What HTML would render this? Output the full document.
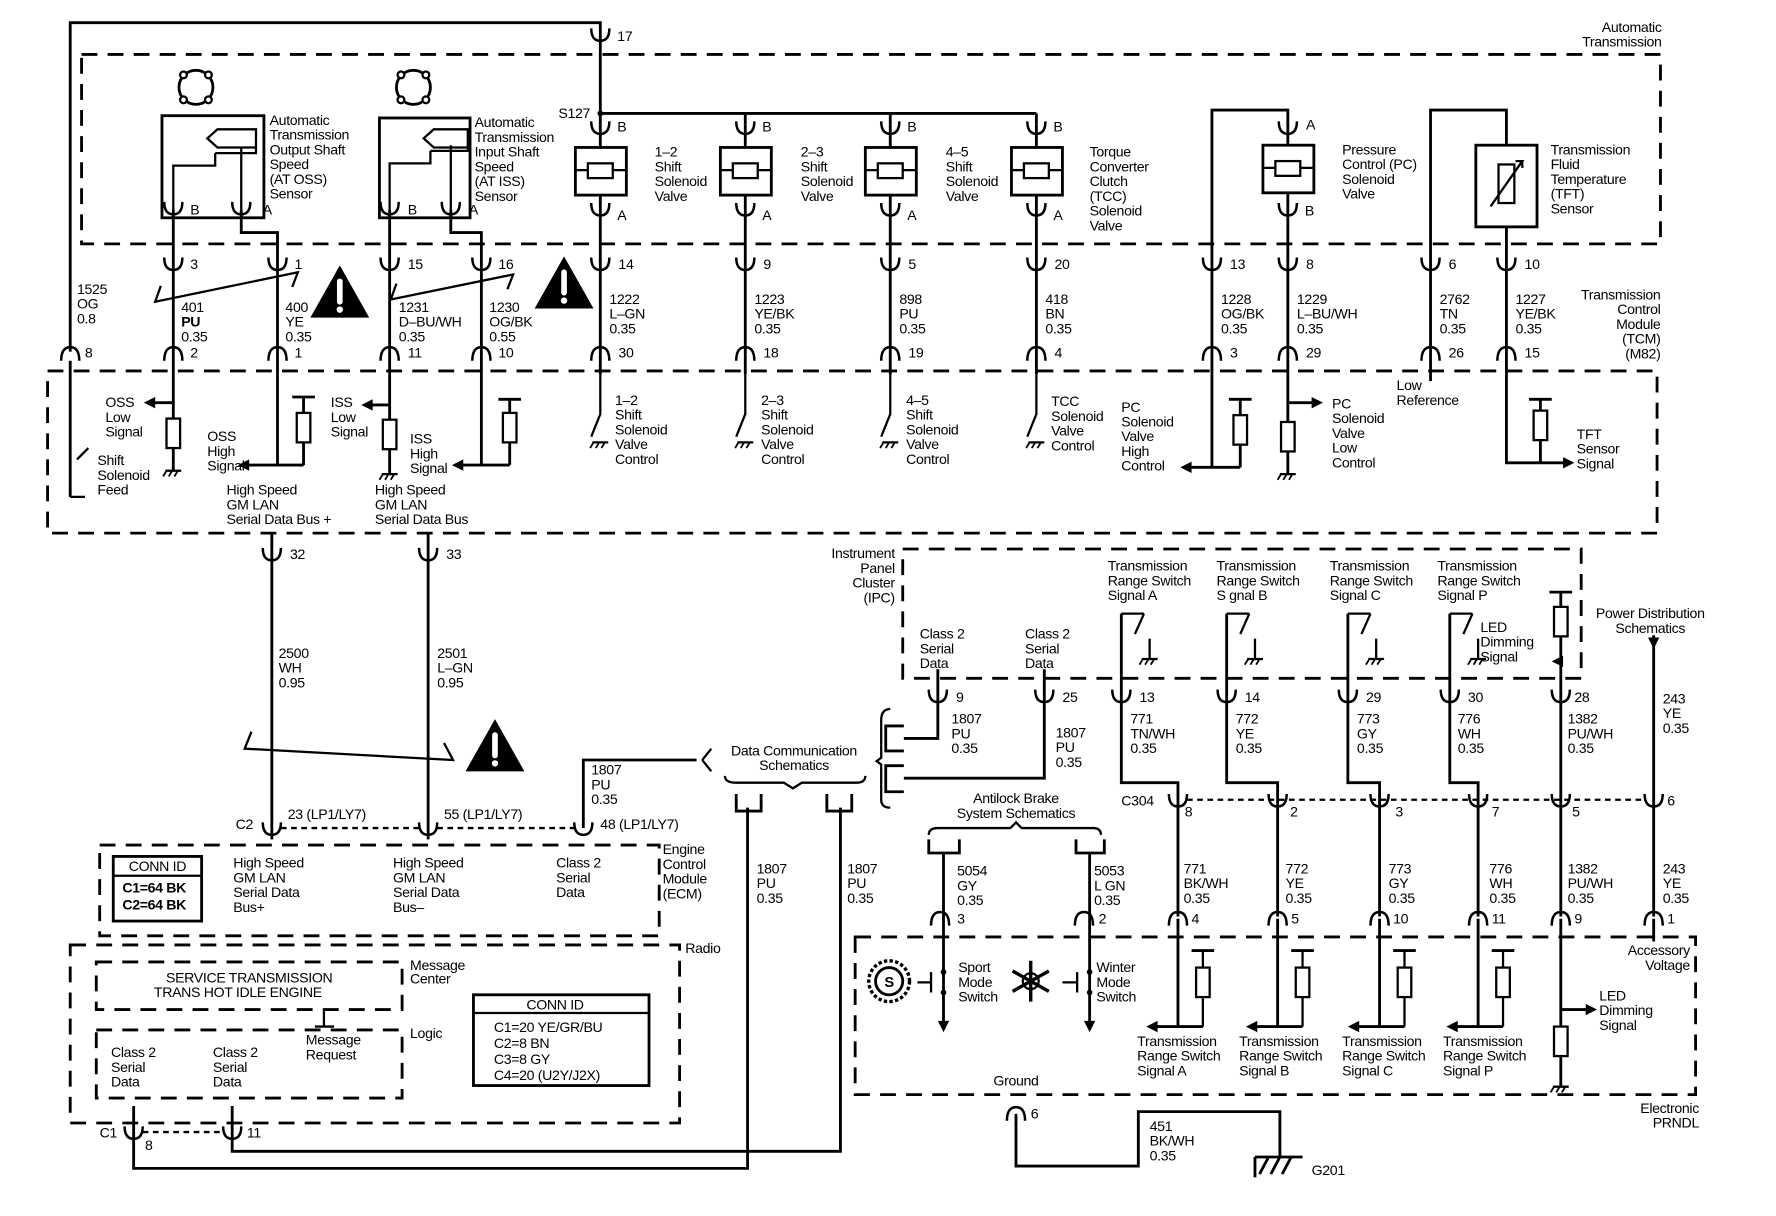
<!DOCTYPE html>
<html><head><meta charset="utf-8"><style>
html,body{margin:0;padding:0;background:#fff}
svg{display:block}
text{font-family:"Liberation Sans",Arial,sans-serif;font-size:12.5px;fill:#000;letter-spacing:-0.3px}
.b{font-weight:bold}
</style></head><body>
<svg width="1776" height="1216" viewBox="0 0 1568 1072" preserveAspectRatio="none" xmlns="http://www.w3.org/2000/svg">
<defs>
<path id="cu" d="M-8,-5 Q-8,6 0,6 Q8,6 8,-5" fill="none" stroke="#000" stroke-width="2.2"/>
<path id="ca" d="M-8,6 Q-8,-6 0,-6 Q8,-6 8,6" fill="none" stroke="#000" stroke-width="2.2"/>
<g id="gnd"><line x1="-7" y1="0" x2="7" y2="0" stroke="#000" stroke-width="2"/><path d="M-6,0 l-3,5 M-1,0 l-3,5 M4,0 l-3,5" stroke="#000" stroke-width="1.6"/></g>
<g id="res"><rect x="-6" y="0" width="12" height="26" fill="#fff" stroke="#000" stroke-width="2"/></g>
<path id="arl" d="M0,0 l10,-5 v10 z" fill="#000"/>
<path id="arr" d="M0,0 l-10,-5 v10 z" fill="#000"/>
<path id="ard" d="M0,0 l-5,-10 h10 z" fill="#000"/>
<g id="warn"><path d="M0,-28 L26,18 L-26,18 Z" fill="#000"/><path d="M0,-14 v18" stroke="#fff" stroke-width="5" stroke-linecap="round"/><circle cx="0" cy="11" r="2.8" fill="#fff"/></g>
<g id="sol"><rect x="-22" y="-20" width="45" height="42" fill="#fff" stroke="#000" stroke-width="2.5"/><rect x="-11" y="-6" width="22" height="13" fill="#fff" stroke="#000" stroke-width="2"/><line x1="-22" y1="0" x2="-11" y2="0" stroke="#000" stroke-width="2"/><line x1="11" y1="0" x2="23" y2="0" stroke="#000" stroke-width="2"/></g>
<g id="gear"><circle r="15" fill="none" stroke="#000" stroke-width="2.5"/><circle cx="-11" cy="-11" r="3" fill="#fff" stroke="#000" stroke-width="2"/><circle cx="11" cy="-11" r="3" fill="#fff" stroke="#000" stroke-width="2"/><circle cx="-11" cy="11" r="3" fill="#fff" stroke="#000" stroke-width="2"/><circle cx="11" cy="11" r="3" fill="#fff" stroke="#000" stroke-width="2"/></g>
<g id="sw"><line x1="0" y1="0" x2="20" y2="0" stroke="#000" stroke-width="2"/><line x1="20" y1="0" x2="12" y2="18" stroke="#000" stroke-width="2"/><line x1="25" y1="22" x2="25" y2="40" stroke="#000" stroke-width="2"/><use href="#gnd" x="25" y="40"/></g>
<g id="pull"><line x1="0" y1="0" x2="22" y2="0" stroke="#000" stroke-width="2.5"/><line x1="22" y1="0" x2="22" y2="-67" stroke="#000" stroke-width="2"/><use href="#res" x="22" y="-52"/><line x1="12" y1="-67" x2="32" y2="-67" stroke="#000" stroke-width="2.5"/></g>
</defs>

<g fill="none" stroke="#000" stroke-width="2.5" stroke-dasharray="14,9">
<rect x="72" y="48" width="1394" height="167"/>
<rect x="42" y="327" width="1421" height="143"/>
<rect x="797" y="484" width="599" height="114"/>
<rect x="88" y="745" width="494" height="80"/>
<rect x="62" y="833" width="538" height="157"/>
<rect x="85" y="848" width="270" height="42"/>
<rect x="85" y="908" width="270" height="60"/>
<rect x="755" y="826" width="742" height="139"/>
</g>

<g fill="none" stroke="#000" stroke-width="2.5">
<path d="M62,310 V20 H530 V100 H915 M658,100 V110 M786,100 V110 M915,100 V110 M530,100 V110"/>
<path d="M62,318 V438"/>
</g>
<text x="545" y="36">17</text><use href="#cu" x="530" y="30"/>
<text x="493" y="104">S127</text><circle cx="530" cy="100" r="2.5"/>
<text x="1467" y="28" text-anchor="end">Automatic</text><text x="1467" y="41" text-anchor="end">Transmission</text>

<use href="#gear" x="173" y="77"/><use href="#gear" x="365" y="77"/>
<g fill="none" stroke="#000" stroke-width="2.5">
<rect x="143" y="102" width="90" height="90"/><rect x="335" y="104" width="80" height="88"/>
<path d="M153,192 V175 M153,175 V170 V146 H190 V135 M213,192 V130 M190,135 H226 V114 H192 L183,122 L192,130 H226" stroke-width="2"/>
<path d="M344,192 V170 V144 H380 V133 M398,192 V128 M380,133 H413 V114 H383 L374,122 L383,130 H413" stroke-width="2"/>
<path d="M153,185 V330 M213,185 V205 H245 V330 M344,185 V330 M398,185 V205 H425 V330"/>
</g>
<use href="#cu" x="153" y="183"/><use href="#cu" x="213" y="183"/><use href="#cu" x="344" y="183"/><use href="#cu" x="398" y="183"/>
<text x="168" y="189">B</text><text x="232" y="189">A</text><text x="360" y="189">B</text><text x="414" y="189">A</text>
<g><text x="238" y="110">Automatic</text><text x="238" y="123">Transmission</text><text x="238" y="136">Output Shaft</text><text x="238" y="149">Speed</text><text x="238" y="162">(AT OSS)</text><text x="238" y="175">Sensor</text></g>
<g><text x="419" y="112">Automatic</text><text x="419" y="125">Transmission</text><text x="419" y="138">Input Shaft</text><text x="419" y="151">Speed</text><text x="419" y="164">(AT ISS)</text><text x="419" y="177">Sensor</text></g>

<g fill="none" stroke="#000" stroke-width="2.5">
<path d="M530,110 V330 M658,110 V330 M786,110 V330 M915,110 V330"/>
<path d="M1070,330 V97 H1137 V112 M1137,112 V330 M1263,330 V97 H1330 V128 M1330,200 V330"/>
</g>
<use href="#sol" x="530" y="150"/><use href="#sol" x="658" y="150"/><use href="#sol" x="786" y="150"/><use href="#sol" x="915" y="150"/><use href="#sol" x="1137" y="148"/>
<rect x="1303" y="128" width="54" height="72" fill="#fff" stroke="#000" stroke-width="2.5"/>
<rect x="1323" y="145" width="14" height="34" fill="#fff" stroke="#000" stroke-width="2"/>
<path d="M1316,182 L1344,142 l-6,0 M1344,142 l0,6" stroke="#000" stroke-width="2" fill="none"/>
<g>
<use href="#cu" x="530" y="112"/><use href="#cu" x="658" y="112"/><use href="#cu" x="786" y="112"/><use href="#cu" x="915" y="112"/><use href="#cu" x="1137" y="112"/>
<use href="#cu" x="530" y="184"/><use href="#cu" x="658" y="184"/><use href="#cu" x="786" y="184"/><use href="#cu" x="915" y="184"/><use href="#cu" x="1137" y="184"/>
</g>
<text x="545" y="116">B</text><text x="673" y="116">B</text><text x="801" y="116">B</text><text x="930" y="116">B</text><text x="1153" y="114">A</text>
<text x="545" y="194">A</text><text x="673" y="194">A</text><text x="801" y="194">A</text><text x="930" y="194">A</text><text x="1152" y="190">B</text>
<text x="578" y="138">1–2</text><text x="578" y="151">Shift</text><text x="578" y="164">Solenoid</text><text x="578" y="177">Valve</text>
<text x="707" y="138">2–3</text><text x="707" y="151">Shift</text><text x="707" y="164">Solenoid</text><text x="707" y="177">Valve</text>
<text x="835" y="138">4–5</text><text x="835" y="151">Shift</text><text x="835" y="164">Solenoid</text><text x="835" y="177">Valve</text>
<text x="962" y="138">Torque</text><text x="962" y="151">Converter</text><text x="962" y="164">Clutch</text><text x="962" y="177">(TCC)</text><text x="962" y="190">Solenoid</text><text x="962" y="203">Valve</text>
<text x="1185" y="136">Pressure</text><text x="1185" y="149">Control (PC)</text><text x="1185" y="162">Solenoid</text><text x="1185" y="175">Valve</text>
<text x="1369" y="136">Transmission</text><text x="1369" y="149">Fluid</text><text x="1369" y="162">Temperature</text><text x="1369" y="175">(TFT)</text><text x="1369" y="188">Sensor</text>

<g>
<use href="#cu" x="153" y="232"/><use href="#cu" x="245" y="232"/><use href="#cu" x="344" y="232"/><use href="#cu" x="425" y="232"/><use href="#cu" x="530" y="232"/><use href="#cu" x="658" y="232"/><use href="#cu" x="786" y="232"/><use href="#cu" x="915" y="232"/><use href="#cu" x="1070" y="232"/><use href="#cu" x="1137" y="232"/><use href="#cu" x="1263" y="232"/><use href="#cu" x="1330" y="232"/>
<use href="#ca" x="62" y="312"/><use href="#ca" x="153" y="312"/><use href="#ca" x="245" y="312"/><use href="#ca" x="344" y="312"/><use href="#ca" x="425" y="312"/><use href="#ca" x="530" y="312"/><use href="#ca" x="658" y="312"/><use href="#ca" x="786" y="312"/><use href="#ca" x="915" y="312"/><use href="#ca" x="1070" y="312"/><use href="#ca" x="1137" y="312"/><use href="#ca" x="1263" y="312"/><use href="#ca" x="1330" y="312"/>
</g>
<g>
<text x="168" y="237">3</text><text x="260" y="237">1</text><text x="360" y="237">15</text><text x="440" y="237">16</text><text x="546" y="237">14</text><text x="674" y="237">9</text><text x="802" y="237">5</text><text x="931" y="237">20</text><text x="1086" y="237">13</text><text x="1153" y="237">8</text><text x="1279" y="237">6</text><text x="1346" y="237">10</text>
<text x="75" y="315">8</text><text x="168" y="315">2</text><text x="260" y="315">1</text><text x="360" y="315">11</text><text x="440" y="315">10</text><text x="546" y="315">30</text><text x="674" y="315">18</text><text x="802" y="315">19</text><text x="931" y="315">4</text><text x="1086" y="315">3</text><text x="1153" y="315">29</text><text x="1279" y="315">26</text><text x="1346" y="315">15</text>
</g>
<g>
<text x="68" y="259">1525</text><text x="68" y="272">OG</text><text x="68" y="285">0.8</text>
<text x="160" y="275">401</text><text x="160" y="288" class="b">PU</text><text x="160" y="301">0.35</text>
<text x="252" y="275">400</text><text x="252" y="288">YE</text><text x="252" y="301">0.35</text>
<text x="352" y="275">1231</text><text x="352" y="288">D–BU/WH</text><text x="352" y="301">0.35</text>
<text x="432" y="275">1230</text><text x="432" y="288">OG/BK</text><text x="432" y="301">0.55</text>
<text x="538" y="268">1222</text><text x="538" y="281">L–GN</text><text x="538" y="294">0.35</text>
<text x="666" y="268">1223</text><text x="666" y="281">YE/BK</text><text x="666" y="294">0.35</text>
<text x="794" y="268">898</text><text x="794" y="281">PU</text><text x="794" y="294">0.35</text>
<text x="923" y="268">418</text><text x="923" y="281">BN</text><text x="923" y="294">0.35</text>
<text x="1078" y="268">1228</text><text x="1078" y="281">OG/BK</text><text x="1078" y="294">0.35</text>
<text x="1145" y="268">1229</text><text x="1145" y="281">L–BU/WH</text><text x="1145" y="294">0.35</text>
<text x="1271" y="268">2762</text><text x="1271" y="281">TN</text><text x="1271" y="294">0.35</text>
<text x="1338" y="268">1227</text><text x="1338" y="281">YE/BK</text><text x="1338" y="294">0.35</text>
</g>
<text x="1466" y="264" text-anchor="end">Transmission</text><text x="1466" y="277" text-anchor="end">Control</text><text x="1466" y="290" text-anchor="end">Module</text><text x="1466" y="303" text-anchor="end">(TCM)</text><text x="1466" y="316" text-anchor="end">(M82)</text>
<path d="M142,252 L137,266 L263,240 L258,253" fill="none" stroke="#000" stroke-width="2"/>
<path d="M350,250 L345,264 L453,242 L448,255" fill="none" stroke="#000" stroke-width="2"/>
<use href="#warn" x="300" y="262"/><use href="#warn" x="498" y="254"/>

<g fill="none" stroke="#000" stroke-width="2.5">
<path d="M153,330 V415 M245,330 V410 H215 M268,410 H245 M268,410 V350 M344,330 V418 M425,330 V410 H403 M450,410 H425 M450,410 V352 M153,355 H130 M344,357 H322"/>
<path d="M530,330 V365 L522,385 M658,330 V365 L650,385 M786,330 V365 L778,385 M915,330 V365 L907,385" stroke-width="2"/>
<path d="M1070,330 V412 H1045 M1095,412 H1070 M1095,412 V352 M1137,330 V418 M1137,355 H1160 M1263,330 V336 M1330,330 V408 H1382 M1360,408 V352"/>
</g>
<use href="#res" x="153" y="369"/><use href="#res" x="268" y="364"/><use href="#res" x="344" y="370"/><use href="#res" x="450" y="364"/><use href="#res" x="1095" y="366"/><use href="#res" x="1137" y="372"/><use href="#res" x="1360" y="362"/>
<g stroke="#000" stroke-width="2.5"><line x1="258" y1="350" x2="278" y2="350"/><line x1="440" y1="352" x2="460" y2="352"/><line x1="1085" y1="352" x2="1105" y2="352"/><line x1="1350" y1="352" x2="1370" y2="352"/></g>
<use href="#gnd" x="153" y="415"/><use href="#gnd" x="344" y="418"/><use href="#gnd" x="1137" y="418"/><use href="#gnd" x="530" y="390"/><use href="#gnd" x="658" y="390"/><use href="#gnd" x="786" y="390"/><use href="#gnd" x="915" y="390"/>
<use href="#arl" x="127" y="355"/><use href="#arl" x="319" y="357"/><use href="#arl" x="210" y="410"/><use href="#arl" x="399" y="410"/><use href="#arl" x="1042" y="412"/><use href="#arr" x="1168" y="355"/><use href="#arr" x="1390" y="408"/>
<path d="M62,438 H75 M68,405 L78,395" stroke="#000" stroke-width="2"/>
<text x="93" y="359">OSS</text><text x="93" y="372">Low</text><text x="93" y="385">Signal</text>
<text x="86" y="410">Shift</text><text x="86" y="423">Solenoid</text><text x="86" y="436">Feed</text>
<text x="183" y="389">OSS</text><text x="183" y="402">High</text><text x="183" y="415">Signal</text>
<text x="292" y="359">ISS</text><text x="292" y="372">Low</text><text x="292" y="385">Signal</text>
<text x="362" y="391">ISS</text><text x="362" y="404">High</text><text x="362" y="417">Signal</text>
<text x="200" y="436">High Speed</text><text x="200" y="449">GM LAN</text><text x="200" y="462">Serial Data Bus +</text>
<text x="331" y="436">High Speed</text><text x="331" y="449">GM LAN</text><text x="331" y="462">Serial Data Bus</text>
<text x="543" y="357">1–2</text><text x="543" y="370">Shift</text><text x="543" y="383">Solenoid</text><text x="543" y="396">Valve</text><text x="543" y="409">Control</text>
<text x="672" y="357">2–3</text><text x="672" y="370">Shift</text><text x="672" y="383">Solenoid</text><text x="672" y="396">Valve</text><text x="672" y="409">Control</text>
<text x="800" y="357">4–5</text><text x="800" y="370">Shift</text><text x="800" y="383">Solenoid</text><text x="800" y="396">Valve</text><text x="800" y="409">Control</text>
<text x="928" y="358">TCC</text><text x="928" y="371">Solenoid</text><text x="928" y="384">Valve</text><text x="928" y="397">Control</text>
<text x="990" y="363">PC</text><text x="990" y="376">Solenoid</text><text x="990" y="389">Valve</text><text x="990" y="402">High</text><text x="990" y="415">Control</text>
<text x="1176" y="360">PC</text><text x="1176" y="373">Solenoid</text><text x="1176" y="386">Valve</text><text x="1176" y="399">Low</text><text x="1176" y="412">Control</text>
<text x="1233" y="344">Low</text><text x="1233" y="357">Reference</text>
<text x="1392" y="387">TFT</text><text x="1392" y="400">Sensor</text><text x="1392" y="413">Signal</text>

<g fill="none" stroke="#000" stroke-width="2.5"><path d="M240,470 V740 M378,470 V740"/></g>
<use href="#cu" x="240" y="488"/><use href="#cu" x="378" y="488"/>
<text x="256" y="493">32</text><text x="394" y="493">33</text>
<text x="246" y="580">2500</text><text x="246" y="593">WH</text><text x="246" y="606">0.95</text>
<text x="386" y="580">2501</text><text x="386" y="593">L–GN</text><text x="386" y="606">0.95</text>
<path d="M222,645 L216,660 L400,670 L392,655" fill="none" stroke="#000" stroke-width="2"/>
<use href="#warn" x="437" y="662"/>
<use href="#cu" x="240" y="730"/><use href="#cu" x="378" y="730"/><use href="#cu" x="515" y="730"/>
<path d="M248,730 H370 M386,730 H507" stroke="#000" stroke-width="2" stroke-dasharray="5,4"/>
<path d="M515,730 V670 H615" fill="none" stroke="#000" stroke-width="2.5"/>
<text x="208" y="731">C2</text><text x="254" y="722">23 (LP1/LY7)</text><text x="392" y="722">55 (LP1/LY7)</text><text x="530" y="731">48 (LP1/LY7)</text>
<text x="522" y="683">1807</text><text x="522" y="696">PU</text><text x="522" y="709">0.35</text>
<text x="206" y="765">High Speed</text><text x="206" y="778">GM LAN</text><text x="206" y="791">Serial Data</text><text x="206" y="804">Bus+</text>
<text x="347" y="765">High Speed</text><text x="347" y="778">GM LAN</text><text x="347" y="791">Serial Data</text><text x="347" y="804">Bus–</text>
<text x="491" y="765">Class 2</text><text x="491" y="778">Serial</text><text x="491" y="791">Data</text>
<text x="585" y="753">Engine</text><text x="585" y="766">Control</text><text x="585" y="779">Module</text><text x="585" y="792">(ECM)</text>
<rect x="100" y="755" width="78" height="57" fill="none" stroke="#000" stroke-width="2.5"/>
<line x1="100" y1="772" x2="178" y2="772" stroke="#000" stroke-width="2"/>
<text x="139" y="768" text-anchor="middle">CONN ID</text><text x="108" y="787" class="b">C1=64 BK</text><text x="108" y="802" class="b">C2=64 BK</text>
<text x="605" y="840">Radio</text>
<text x="220" y="866" text-anchor="middle">SERVICE TRANSMISSION</text><text x="210" y="879" text-anchor="middle">TRANS HOT IDLE ENGINE</text>
<text x="362" y="855">Message</text><text x="362" y="867">Center</text>
<path d="M286,890 V905 M278,905 H295" stroke="#000" stroke-width="2"/>
<text x="270" y="921">Message</text><text x="270" y="934">Request</text>
<text x="362" y="915">Logic</text>
<text x="98" y="932">Class 2</text><text x="98" y="945">Serial</text><text x="98" y="958">Data</text>
<text x="188" y="932">Class 2</text><text x="188" y="945">Serial</text><text x="188" y="958">Data</text>
<rect x="418" y="877" width="155" height="80" fill="none" stroke="#000" stroke-width="2.5"/>
<line x1="418" y1="893" x2="573" y2="893" stroke="#000" stroke-width="2"/>
<text x="490" y="890" text-anchor="middle">CONN ID</text><text x="436" y="910">C1=20 YE/GR/BU</text><text x="436" y="924">C2=8 BN</text><text x="436" y="938">C3=8 GY</text><text x="436" y="952">C4=20 (U2Y/J2X)</text>
<use href="#cu" x="118" y="998"/><use href="#cu" x="205" y="998"/>
<path d="M126,998 H197" stroke="#000" stroke-width="2" stroke-dasharray="5,4"/>
<text x="88" y="1003">C1</text><text x="128" y="1014">8</text><text x="218" y="1003">11</text>
<g fill="none" stroke="#000" stroke-width="2.5"><path d="M118,975 V1030 H660 V712 M205,975 V1015 H742 V712"/></g>
<text x="668" y="770">1807</text><text x="668" y="783">PU</text><text x="668" y="796">0.35</text>
<text x="748" y="770">1807</text><text x="748" y="783">PU</text><text x="748" y="796">0.35</text>
<text x="701" y="666" text-anchor="middle">Data Communication</text><text x="701" y="679" text-anchor="middle">Schematics</text>
<path d="M620,670 L628,660 M620,670 L628,680 M640,684 Q640,690 650,690 H692 L700,695 L708,690 H756 Q764,690 764,684" fill="none" stroke="#000" stroke-width="2"/>
<path d="M650,700 V715 H672 V700 M730,700 V715 H752 V700" fill="none" stroke="#000" stroke-width="2.5"/>
<path d="M786,625 Q778,625 778,635 V668 L774,671 L778,674 V705 Q778,712 786,712" fill="none" stroke="#000" stroke-width="2"/>
<path d="M798,640 H782 V662 H798 M798,675 H782 V698 H798" fill="none" stroke="#000" stroke-width="2.5"/>
<text x="790" y="492" text-anchor="end">Instrument</text><text x="790" y="505" text-anchor="end">Panel</text><text x="790" y="518" text-anchor="end">Cluster</text><text x="790" y="531" text-anchor="end">(IPC)</text>
<text x="812" y="563">Class 2</text><text x="812" y="576">Serial</text><text x="812" y="589">Data</text>
<text x="905" y="563">Class 2</text><text x="905" y="576">Serial</text><text x="905" y="589">Data</text>
<g fill="none" stroke="#000" stroke-width="2.5"><path d="M828,590 V651 H798 M922,590 V686 H798"/></g>
<use href="#cu" x="828" y="613"/><use href="#cu" x="922" y="613"/>
<text x="844" y="619">9</text><text x="938" y="619">25</text>
<text x="840" y="638">1807</text><text x="840" y="651">PU</text><text x="840" y="664">0.35</text>
<text x="932" y="650">1807</text><text x="932" y="663">PU</text><text x="932" y="676">0.35</text>
<g>
<text x="978" y="503">Transmission</text><text x="978" y="516">Range Switch</text><text x="978" y="529">Signal A</text>
<text x="1074" y="503">Transmission</text><text x="1074" y="516">Range Switch</text><text x="1074" y="529">S gnal B</text>
<text x="1174" y="503">Transmission</text><text x="1174" y="516">Range Switch</text><text x="1174" y="529">Signal C</text>
<text x="1269" y="503">Transmission</text><text x="1269" y="516">Range Switch</text><text x="1269" y="529">Signal P</text>
</g>
<g fill="none" stroke="#000" stroke-width="2.5">
<path d="M990,541 V690 H1040 V808 M1083,541 V690 H1128 V808 M1190,541 V690 H1218 V808 M1280,541 V690 H1305 V808 M1378,535 V808 M1460,560 V808"/>
</g>
<use href="#sw" x="990" y="541"/><use href="#sw" x="1083" y="541"/><use href="#sw" x="1190" y="541"/><use href="#sw" x="1280" y="541"/>
<use href="#res" x="1378" y="535"/>
<path d="M1368,522 H1388 M1378,522 V535" stroke="#000" stroke-width="2.5"/>
<text x="1307" y="557">LED</text><text x="1307" y="570">Dimming</text><text x="1307" y="583">Signal</text>
<use href="#arl" x="1370" y="583"/>
<text x="1457" y="545" text-anchor="middle">Power Distribution</text><text x="1457" y="558" text-anchor="middle">Schematics</text>
<use href="#ard" x="1460" y="572"/>
<g>
<use href="#cu" x="990" y="613"/><use href="#cu" x="1083" y="613"/><use href="#cu" x="1190" y="613"/><use href="#cu" x="1280" y="613"/><use href="#cu" x="1378" y="613"/>
<text x="1006" y="619">13</text><text x="1099" y="619">14</text><text x="1206" y="619">29</text><text x="1296" y="619">30</text><text x="1390" y="619">28</text>
<text x="998" y="638">771</text><text x="998" y="651">TN/WH</text><text x="998" y="664">0.35</text>
<text x="1091" y="638">772</text><text x="1091" y="651">YE</text><text x="1091" y="664">0.35</text>
<text x="1198" y="638">773</text><text x="1198" y="651">GY</text><text x="1198" y="664">0.35</text>
<text x="1287" y="638">776</text><text x="1287" y="651">WH</text><text x="1287" y="664">0.35</text>
<text x="1384" y="638">1382</text><text x="1384" y="651">PU/WH</text><text x="1384" y="664">0.35</text>
<text x="1468" y="620">243</text><text x="1468" y="633">YE</text><text x="1468" y="646">0.35</text>
</g>
<path d="M1048,705 H1452" stroke="#000" stroke-width="2" stroke-dasharray="5,4"/>
<use href="#cu" x="1040" y="705"/><use href="#cu" x="1128" y="705"/><use href="#cu" x="1218" y="705"/><use href="#cu" x="1305" y="705"/><use href="#cu" x="1378" y="705"/><use href="#cu" x="1460" y="705"/>
<text x="990" y="710">C304</text><text x="1046" y="720">8</text><text x="1139" y="720">2</text><text x="1232" y="720">3</text><text x="1317" y="720">7</text><text x="1388" y="720">5</text><text x="1472" y="710">6</text>
<g>
<text x="1045" y="770">771</text><text x="1045" y="783">BK/WH</text><text x="1045" y="796">0.35</text>
<text x="1135" y="770">772</text><text x="1135" y="783">YE</text><text x="1135" y="796">0.35</text>
<text x="1226" y="770">773</text><text x="1226" y="783">GY</text><text x="1226" y="796">0.35</text>
<text x="1315" y="770">776</text><text x="1315" y="783">WH</text><text x="1315" y="796">0.35</text>
<text x="1384" y="770">1382</text><text x="1384" y="783">PU/WH</text><text x="1384" y="796">0.35</text>
<text x="1468" y="770">243</text><text x="1468" y="783">YE</text><text x="1468" y="796">0.35</text>
</g>
<use href="#ca" x="1040" y="810"/><use href="#ca" x="1128" y="810"/><use href="#ca" x="1218" y="810"/><use href="#ca" x="1305" y="810"/><use href="#ca" x="1378" y="810"/><use href="#ca" x="1460" y="810"/>
<text x="1052" y="814">4</text><text x="1140" y="814">5</text><text x="1230" y="814">10</text><text x="1317" y="814">11</text><text x="1390" y="814">9</text><text x="1472" y="814">1</text>
<g fill="none" stroke="#000" stroke-width="2.5">
<path d="M1040,810 V905 H1015 M1128,810 V905 H1103 M1218,810 V905 H1193 M1305,810 V905 H1280 M1378,810 V958 M1378,890 H1402 M1460,810 V830"/>
</g>
<use href="#pull" x="1040" y="905"/><use href="#pull" x="1128" y="905"/><use href="#pull" x="1218" y="905"/><use href="#pull" x="1305" y="905"/>
<use href="#arl" x="1012" y="905"/><use href="#arl" x="1100" y="905"/><use href="#arl" x="1190" y="905"/><use href="#arl" x="1277" y="905"/><use href="#arr" x="1410" y="890"/>
<use href="#res" x="1378" y="905"/><use href="#gnd" x="1378" y="958"/>
<text x="1004" y="922">Transmission</text><text x="1004" y="935">Range Switch</text><text x="1004" y="948">Signal A</text>
<text x="1094" y="922">Transmission</text><text x="1094" y="935">Range Switch</text><text x="1094" y="948">Signal B</text>
<text x="1185" y="922">Transmission</text><text x="1185" y="935">Range Switch</text><text x="1185" y="948">Signal C</text>
<text x="1274" y="922">Transmission</text><text x="1274" y="935">Range Switch</text><text x="1274" y="948">Signal P</text>
<text x="1412" y="882">LED</text><text x="1412" y="895">Dimming</text><text x="1412" y="908">Signal</text>
<text x="1492" y="842" text-anchor="end">Accessory</text><text x="1492" y="855" text-anchor="end">Voltage</text>
<text x="1500" y="981" text-anchor="end">Electronic</text><text x="1500" y="994" text-anchor="end">PRNDL</text>
<text x="897" y="708" text-anchor="middle">Antilock Brake</text><text x="897" y="721" text-anchor="middle">System Schematics</text>
<path d="M820,736 Q820,730 828,730 H892 L897,725 L902,730 H965 Q972,730 972,736" fill="none" stroke="#000" stroke-width="2"/>
<path d="M820,740 V752 H847 V740 M950,740 V752 H975 V740" fill="none" stroke="#000" stroke-width="2.5"/>
<g fill="none" stroke="#000" stroke-width="2.5"><path d="M833,752 V905 M962,752 V905"/></g>
<use href="#ard" x="833" y="910"/><use href="#ard" x="962" y="910"/>
<path d="M822,857 V875 M822,866 H810 M951,857 V875 M951,866 H938" stroke="#000" stroke-width="2"/>
<circle cx="833" cy="857" r="2.5"/><circle cx="833" cy="875" r="2.5"/><circle cx="962" cy="857" r="2.5"/><circle cx="962" cy="875" r="2.5"/>
<use href="#ca" x="830" y="810"/><use href="#ca" x="957" y="810"/>
<text x="845" y="814">3</text><text x="970" y="814">2</text>
<text x="845" y="772">5054</text><text x="845" y="785">GY</text><text x="845" y="798">0.35</text>
<text x="966" y="772">5053</text><text x="966" y="785">L GN</text><text x="966" y="798">0.35</text>
<text x="846" y="857">Sport</text><text x="846" y="870">Mode</text><text x="846" y="883">Switch</text>
<text x="968" y="857">Winter</text><text x="968" y="870">Mode</text><text x="968" y="883">Switch</text>
<circle cx="785" cy="865" r="18" fill="none" stroke="#000" stroke-width="3" stroke-dasharray="3,2"/>
<circle cx="785" cy="865" r="12" fill="none" stroke="#000" stroke-width="2.5"/>
<text x="785" y="870" text-anchor="middle" class="b" style="font-size:13px">S</text>
<g stroke="#000" stroke-width="3"><line x1="910" y1="847" x2="910" y2="883"/><line x1="894" y1="856" x2="926" y2="874"/><line x1="894" y1="874" x2="926" y2="856"/></g>
<circle cx="910" cy="865" r="7" fill="none" stroke="#000" stroke-width="2"/>
<text x="897" y="957" text-anchor="middle">Ground</text>
<use href="#ca" x="897" y="982"/><text x="910" y="986">6</text>
<g fill="none" stroke="#000" stroke-width="2.5"><path d="M897,982 V1028 H1005 V980 H1130 V1020"/></g>
<text x="1015" y="997">451</text><text x="1015" y="1010">BK/WH</text><text x="1015" y="1023">0.35</text>
<path d="M1108,1020 H1150 M1108,1020 V1038 M1112,1035 l8,-15 M1122,1035 l8,-15 M1132,1035 l8,-15" stroke="#000" stroke-width="2.5" fill="none"/>
<text x="1158" y="1036">G201</text>
</svg>
</body></html>
